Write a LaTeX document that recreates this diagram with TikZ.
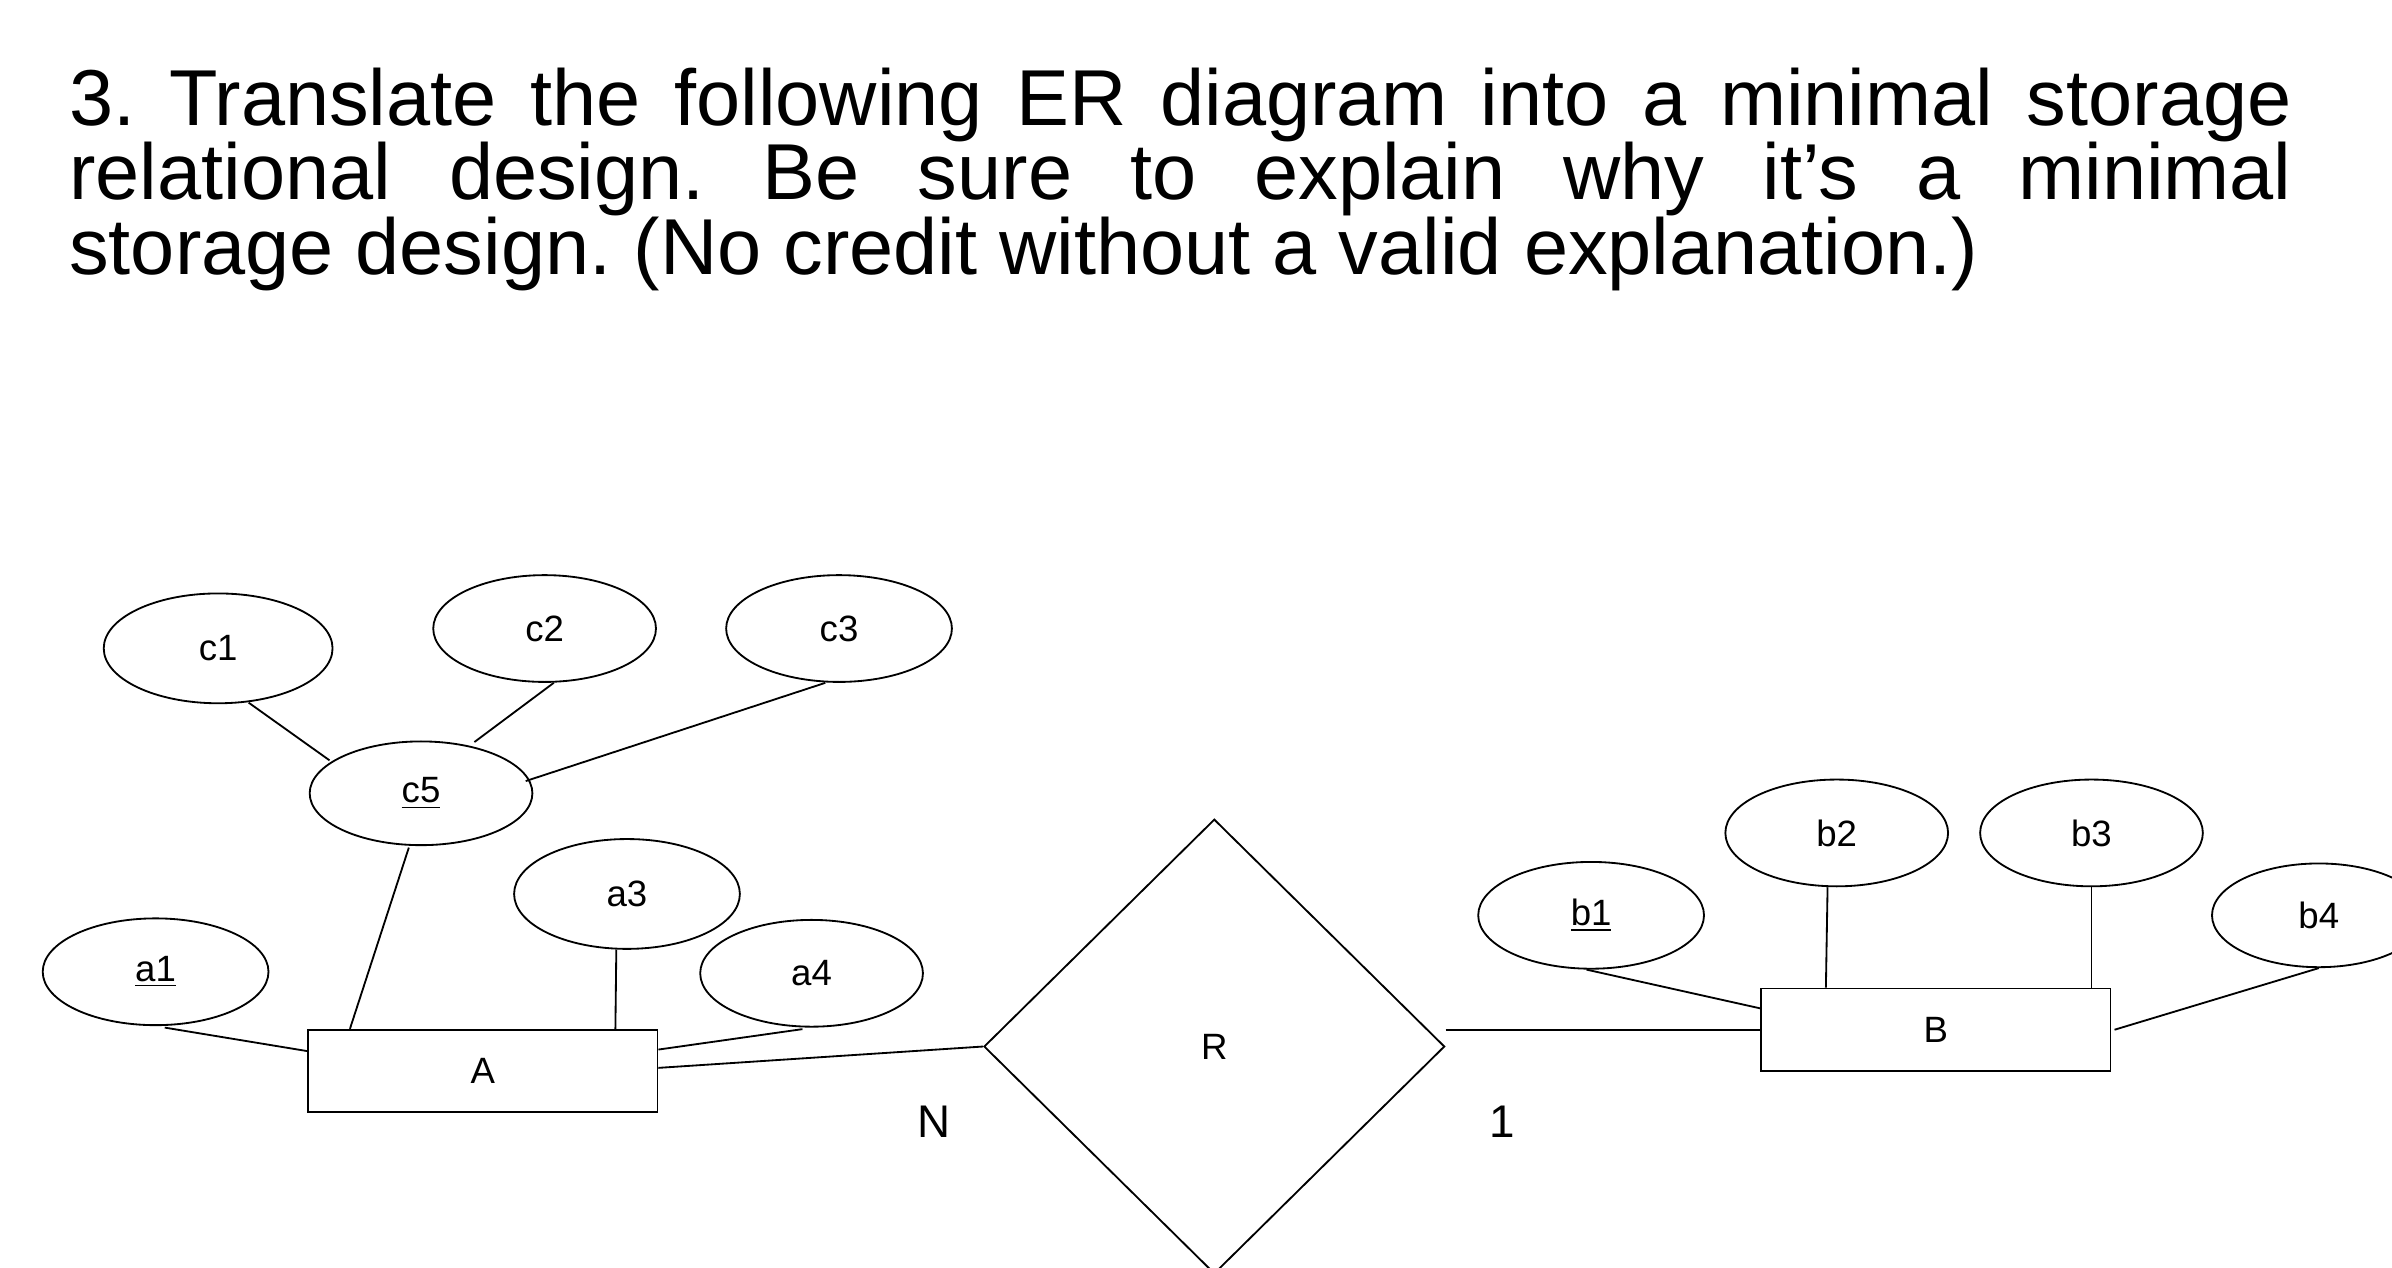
\documentclass[tikz,border=0pt]{standalone}
\usepackage{fontspec}
\setmainfont{Liberation Sans}
\usetikzlibrary{shapes.geometric,calc}
\begin{document}
\begin{tikzpicture}[x=0.5pt,y=-0.5pt,
  attr/.style={draw,ellipse,inner sep=0pt,minimum width=146pt*0.5,minimum height=70pt*0.5,font=\fontsize{12}{14}\selectfont},
  ent/.style={draw,rectangle,inner sep=0pt,minimum width=114.5pt,minimum height=27pt,font=\fontsize{12}{14}\selectfont},
  lbl/.style={font=\fontsize{15}{18}\selectfont}]
\clip (0,0) rectangle (1568,831);
\fill[white] (0,0) rectangle (1568,831);
\node[anchor=north west,inner sep=0pt,text width=728.5pt,align=justify,font=\fontsize{26}{24.5}\selectfont] (title) at (45,44)
{\frenchspacing 3. Translate the following ER diagram into a minimal storage\linebreak relational design. Be sure to explain why it’s a minimal\linebreak storage design. (No credit without a valid explanation.)};
\begin{scope}[line width=0.6pt]
\node[attr,minimum width=75pt,minimum height=36pt] (c1) at (143,425) {c1};
\node[attr] (c2) at (357,412) {c2};
\node[attr,minimum width=74pt] (c3) at (550,412) {c3};
\node[attr,minimum height=34pt] (c5) at (276,520) {\underline{c5}};
\node[attr,minimum width=74pt,minimum height=36pt] (a3) at (411,586) {a3};
\node[attr,minimum width=74pt] (a1) at (102,637) {\underline{a1}};
\node[attr] (a4) at (532,638) {a4};
\node[attr,minimum width=74pt] (b1) at (1043,600) {\underline{b1}};
\node[attr] (b2) at (1204,546) {b2};
\node[attr] (b3) at (1371,546) {b3};
\node[attr,minimum width=70pt,minimum height=34pt] (b4) at (1520,600) {b4};
\node[ent] (A) at (316.5,702) {A};
\node[ent] (B) at (1269,675) {B};
\node[draw,diamond,inner sep=0pt,minimum width=151pt,minimum height=149pt,font=\fontsize{12}{14}\selectfont] (R) at (796,686) {R};
\node[lbl] (N) at (612,735) {N};
\node[lbl] (one) at (985,735) {1};
\draw ($(c1.south)+(20,-1)$) -- ($(c5.north)+(-60,13)$);
\draw ($(c2.south)+(6,0)$) -- ($(c5.north)+(35,1)$);
\draw ($(c3.south)+(-9,0)$) -- ($(c5.east)+(-5,-8)$);
\draw ($(c5.south)+(-8,1)$) -- ($(A.north west)+(28,0)$);
\draw ($(a1.south)+(6,1)$) -- ($(A.west)+(0,-13)$);
\draw ($(a3.south)+(-7,0)$) -- ($(A.north west)+(202,0)$);
\draw ($(a4.south)+(-6,1)$) -- ($(A.east)+(0,-14)$);
\draw ($(A.east)+(0,-2)$) -- (R.west);
\draw (R.east |- B.west) -- (B.west);
\draw ($(b1.south)+(-3,0)$) -- ($(B.west)+(0,-14)$);
\draw ($(b2.south)+(-6,0)$) -- ($(B.north west)+(43,0)$);
\draw (b3.south) -- (b3.south |- B.north);
\draw (b4.south) -- ($(B.east)+(2,0)$);
\end{scope}
\end{tikzpicture}
\end{document}
